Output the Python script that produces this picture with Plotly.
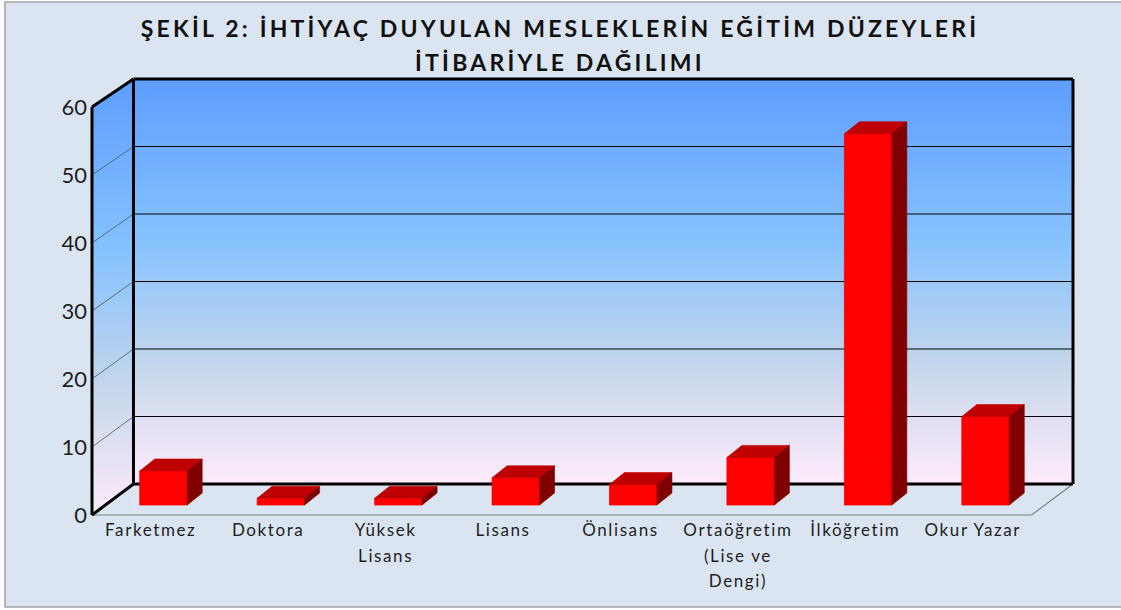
import plotly.graph_objects as go

# --- data ---
categories = ["Farketmez", "Doktora", "Yüksek<br>Lisans", "Lisans", "Önlisans",
              "Ortaöğretim<br>(Lise ve<br>Dengi)", "İlköğretim", "Okur Yazar"]
values = [5, 1, 1, 4, 3, 7, 54.6, 13]
y_ticks = [0, 10, 20, 30, 40, 50, 60]
title_text = "ŞEKİL 2: İHTİYAÇ DUYULAN MESLEKLERİN EĞİTİM DÜZEYLERİ<br>İTİBARİYLE DAĞILIMI"

# --- drawing constants ---
W, H = 1121, 610
PX_PER_CAT, PX_PER_UNIT = 117.5, 6.8
PAD_X, PAD_TOP, PAD_BOTTOM = 4 / PX_PER_CAT, 5 / PX_PER_UNIT, 3 / PX_PER_UNIT
DEPTH_X, DEPTH_Y = 41.5 / PX_PER_CAT, 31 / PX_PER_UNIT
BACK_SCALE = 6.75 / 6.8
BAR_SHIFT, BAR_WIDTH = 12.75 / PX_PER_CAT, 47.5 / PX_PER_CAT
BAR_DX, BAR_DY = 15 / PX_PER_CAT, 12 / PX_PER_UNIT
BAR_BASE = 10 / PX_PER_UNIT
BG = "#DBE5F1"
STOPS = [(0, (0x5E, 0x9E, 0xFF)), (0.39, (0x85, 0xC2, 0xFF)),
         (0.70, (0xC4, 0xD6, 0xEB)), (1, (0xFF, 0xEB, 0xFA))]

x_left, x_cat_end = -0.5, len(categories) - 0.5
x_back = x_left + DEPTH_X
y_max = y_ticks[-1]
back = lambda v: DEPTH_Y + v * BACK_SCALE
y_back_top = back(y_max)
x_range = [x_left - PAD_X, x_cat_end + DEPTH_X + PAD_X]
y_range = [-PAD_BOTTOM, y_back_top + PAD_TOP]
ML, MR, MT, MB = 88, 44, 74, 92


def grad(t):
    for (a, ca), (b, cb) in zip(STOPS, STOPS[1:]):
        if t <= b:
            f = (t - a) / (b - a)
            return "rgb(%d,%d,%d)" % tuple(round(p + (q - p) * f) for p, q in zip(ca, cb))
    return "rgb(255,235,250)"


def line(x0, y0, x1, y1, color="black", width=3):
    return dict(type="line", xref="x", yref="y", x0=x0, y0=y0, x1=x1, y1=y1,
                line=dict(color=color, width=width), layer="below")


def poly(points, color):
    path = "M" + " L".join(f"{x},{y}" for x, y in points) + " Z"
    return dict(type="path", xref="x", yref="y", path=path, fillcolor=color,
                line=dict(width=0), layer="below")


shapes = []
# chart area with grey border (runs off the right edge as in the reference)
fx = lambda p: (p - ML) / (W - ML - MR)
fy = lambda p: 1 - (p - MT) / (H - MT - MB)
shapes.append(dict(type="rect", xref="paper", yref="paper", x0=fx(5), x1=fx(W + 6),
                   y0=fy(607), y1=fy(2), fillcolor=BG,
                   line=dict(color="#A3A3A3", width=1.5), layer="below"))

# wall gradients: each strip runs to the wall's foot, so no seams show
N = 120
for i in range(N):
    t = i / N
    top = y_back_top * (1 - t)
    shapes.append(dict(type="rect", xref="x", yref="y", x0=x_left, x1=x_back, y0=0, y1=top,
                       fillcolor=grad(t), line=dict(width=0), layer="below"))
for i in range(N):
    t = i / N
    top = y_back_top + (DEPTH_Y - y_back_top) * t
    shapes.append(dict(type="rect", xref="x", yref="y", x0=x_back, x1=x_cat_end + DEPTH_X,
                       y0=DEPTH_Y, y1=top, fillcolor=grad(t), line=dict(width=0), layer="below"))
# cut the side wall's rectangle down to a parallelogram
shapes.append(poly([(x_left, y_max), (x_back, y_back_top), (x_left, y_back_top)], BG))
shapes.append(poly([(x_left, 0), (x_back, DEPTH_Y), (x_back, 0)], BG))

# gridlines
for v in y_ticks[1:-1]:
    shapes.append(line(x_left, v, x_back, back(v), "#4A5560", 0.8))
    shapes.append(line(x_back, back(v), x_cat_end + DEPTH_X, back(v), "#000000", 1))

# floor edge
shapes.append(line(x_left, 0, x_cat_end, 0, "#808080", 1.2))
shapes.append(line(x_cat_end, 0, x_cat_end + DEPTH_X, DEPTH_Y, "#808080", 1.2))
# wall frame
shapes += [
    line(x_left, 0, x_left, y_max),
    line(x_left, y_max, x_back, y_back_top),
    line(x_back, DEPTH_Y, x_back, y_back_top),
    line(x_back, y_back_top, x_cat_end + DEPTH_X, y_back_top),
    line(x_cat_end + DEPTH_X, y_back_top, x_cat_end + DEPTH_X, DEPTH_Y),
    line(x_back, DEPTH_Y, x_cat_end + DEPTH_X, DEPTH_Y),
    line(x_left, 0, x_back, DEPTH_Y),
]

positions = [i + BAR_SHIFT for i in range(len(categories))]
fig = go.Figure()
fig.add_trace(go.Bar(x=positions, y=values, base=BAR_BASE, width=BAR_WIDTH,
                     marker=dict(color="#FF0000", line=dict(width=0.8, color="#FF0000")),
                     showlegend=False, hoverinfo="skip"))

top_x, top_y, side_x, side_y = [], [], [], []
for p, v in zip(positions, values):
    l, r, b, t = p - BAR_WIDTH / 2, p + BAR_WIDTH / 2, BAR_BASE, BAR_BASE + v
    top_x += [l, r, r + BAR_DX, l + BAR_DX, l, None]
    top_y += [t, t, t + BAR_DY, t + BAR_DY, t, None]
    side_x += [r, r + BAR_DX, r + BAR_DX, r, r, None]
    side_y += [b, b + BAR_DY, t + BAR_DY, t, b, None]
for xs, ys, color in [(top_x, top_y, "#BF0000"), (side_x, side_y, "#800000")]:
    fig.add_trace(go.Scatter(x=xs, y=ys, mode="lines", fill="toself", fillcolor=color,
                             line=dict(width=0.6, color=color), showlegend=False,
                             hoverinfo="skip"))

fig.update_layout(
    width=W, height=H, autosize=False,
    margin=dict(l=ML, r=MR, t=MT, b=MB, autoexpand=False),
    paper_bgcolor="white", plot_bgcolor="rgba(0,0,0,0)",
    font=dict(family="Lato", color="#1E1E1E"),
    title=dict(text=title_text, x=0.4995, xanchor="center", y=0.939, yanchor="top",
               font=dict(family="Lato", size=23, color="#111111", weight="bold")),
    shapes=shapes, showlegend=False,
    xaxis=dict(range=x_range, tickvals=list(range(len(categories))), ticktext=categories,
               tickangle=0, showgrid=False, zeroline=False, showline=False, ticks="",
               tickfont=dict(size=17)),
    yaxis=dict(range=y_range, tickvals=y_ticks, showgrid=False, zeroline=False,
               showline=False, ticks="", tickfont=dict(size=22)),
)

post = """
document.body.style.margin = '0';
var gd = document.getElementById('{plot_id}');
function spread(sel, spacing, lead) {
  gd.querySelectorAll(sel).forEach(function (el) {
    el.style.letterSpacing = spacing;
    el.querySelectorAll('tspan.line').forEach(function (t, i) {
      t.setAttribute('dy', (i * lead) + 'em');
    });
  });
}
function polish() {
  spread('.gtitle', '3.2px', 1.48);
  spread('.xtick text', '1.6px', 1.5);
}
polish();
gd.on('plotly_afterplot', polish);
"""
fig.write_html("out.html", post_script=post, config=dict(displayModeBar=False))
